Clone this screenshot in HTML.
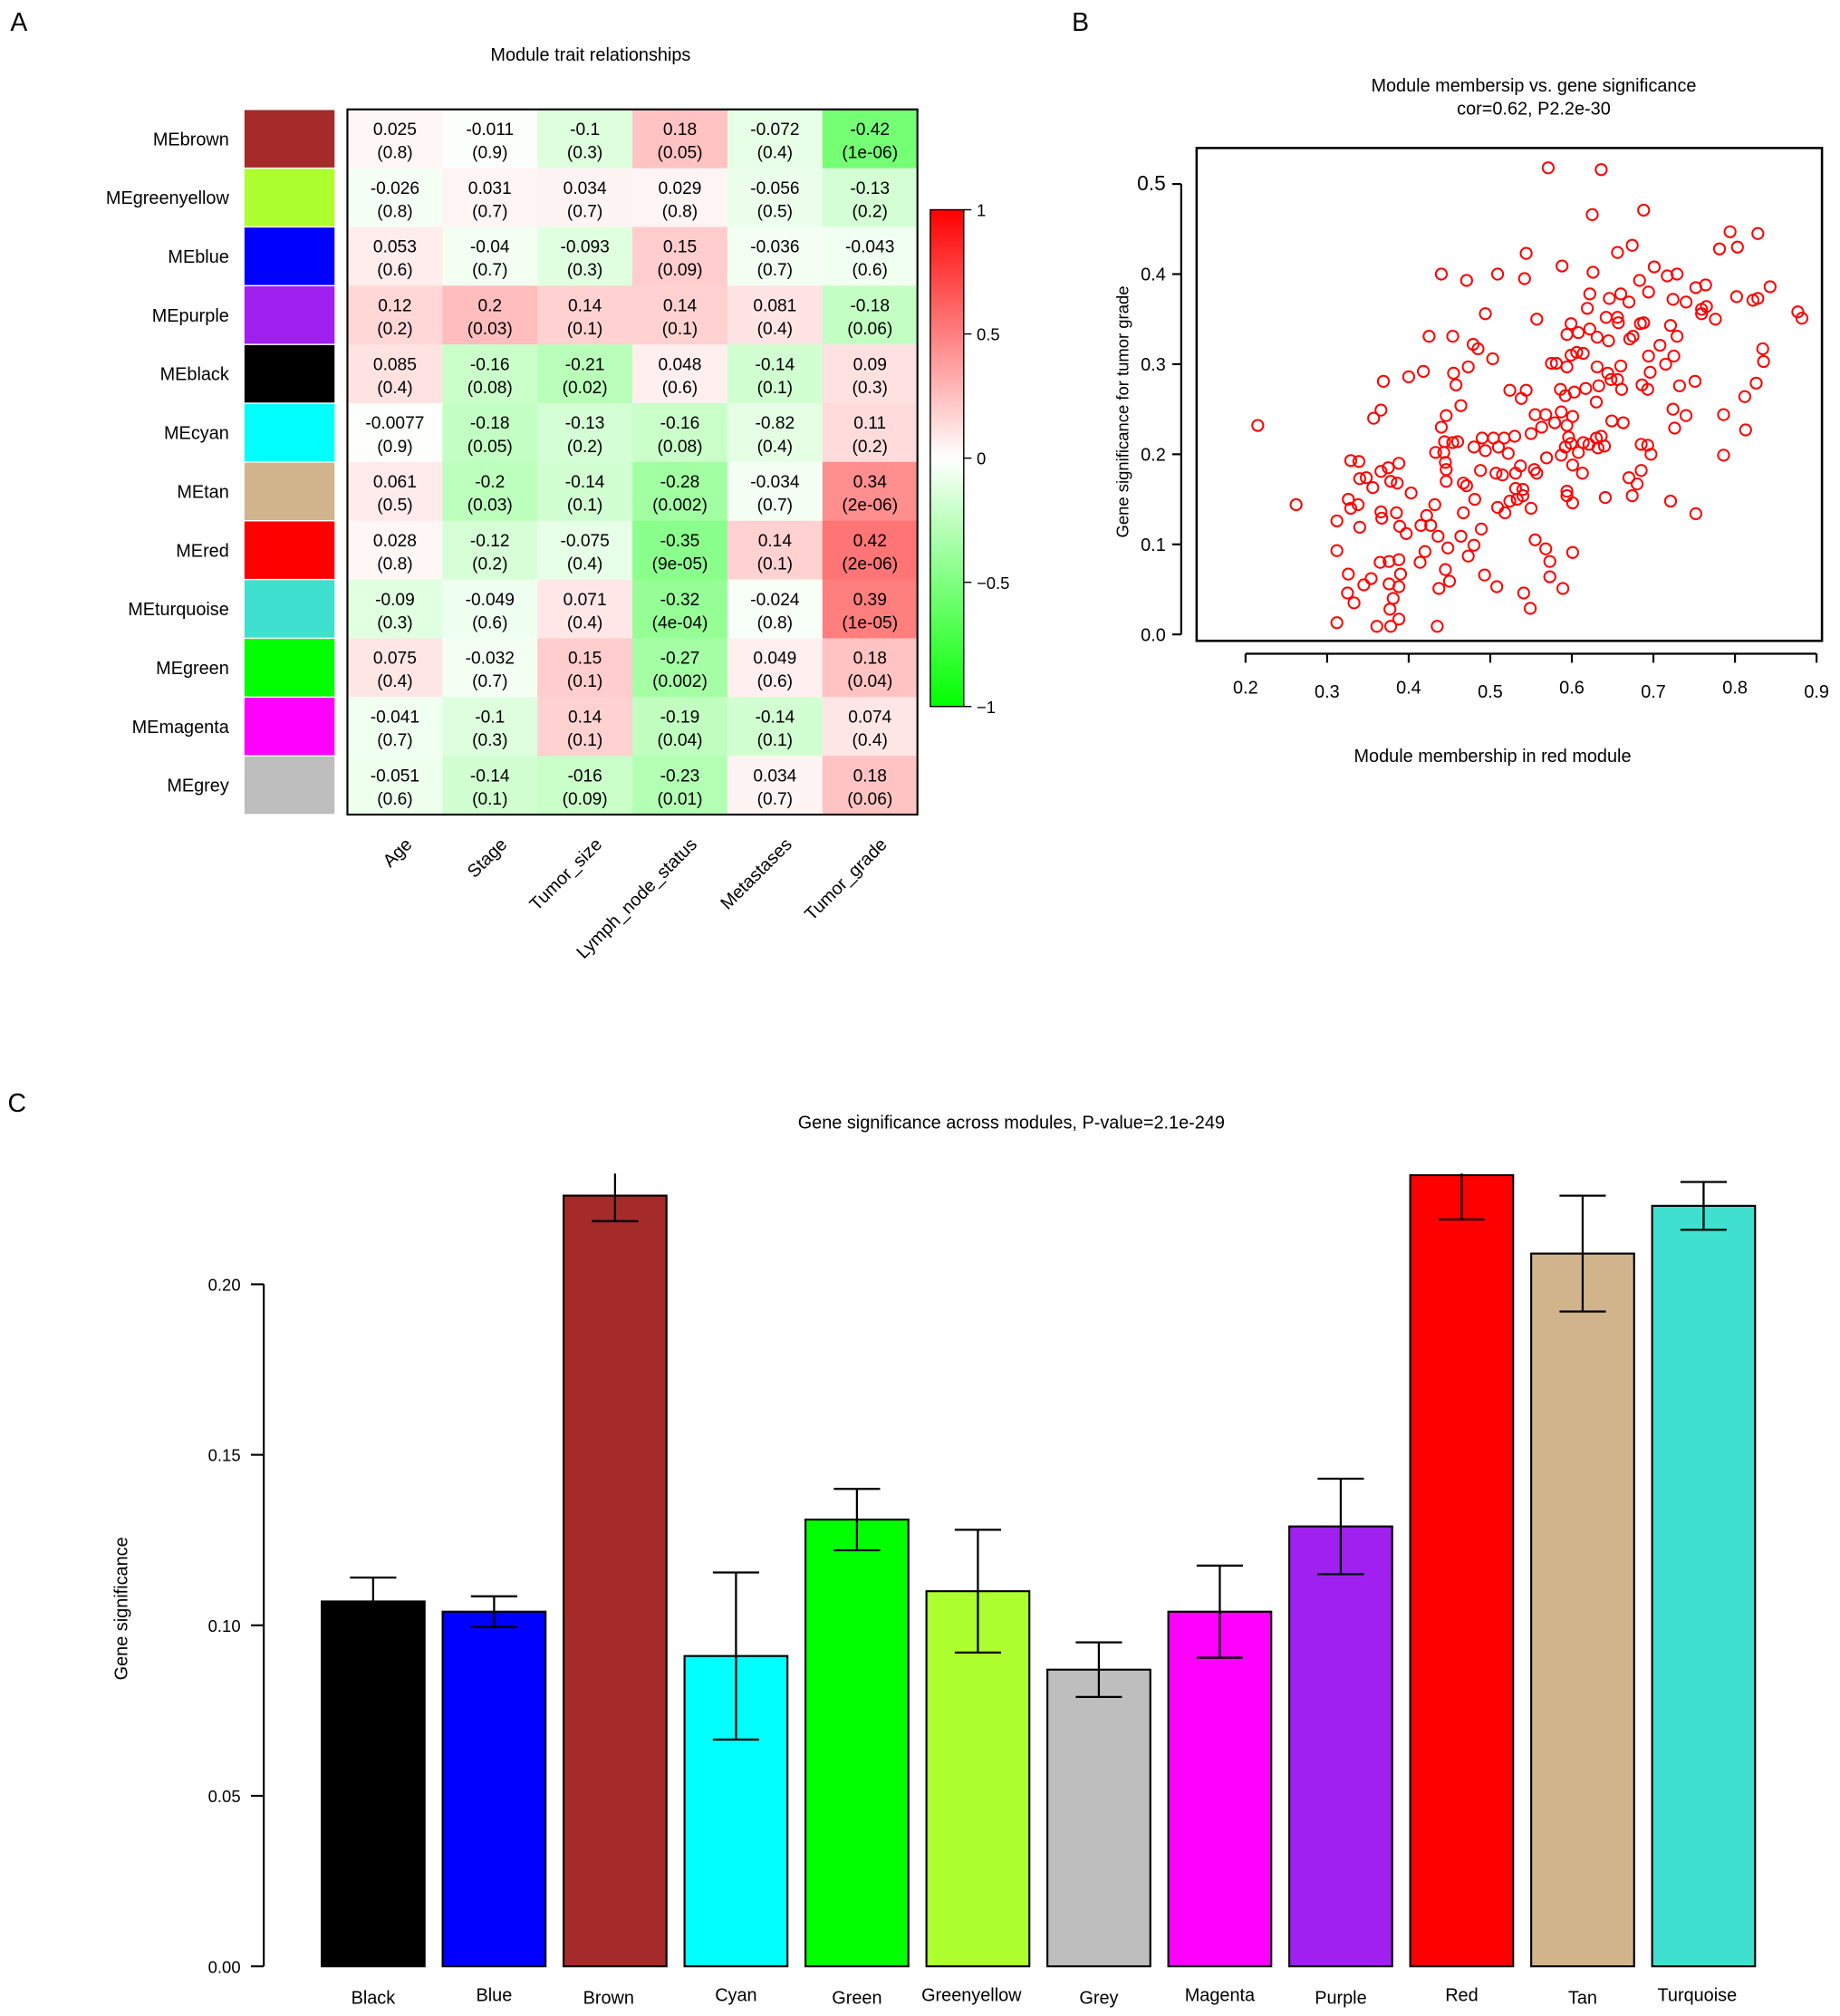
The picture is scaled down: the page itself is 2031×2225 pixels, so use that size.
<!DOCTYPE html>
<html><head><meta charset="utf-8"><style>
html,body{margin:0;padding:0;background:#fff}
svg{display:block;font-family:"Liberation Sans",Arial,sans-serif}
</style></head><body>
<svg id="fig" width="2031" height="2225" viewBox="0 0 1430 1566.6" xmlns="http://www.w3.org/2000/svg">
<text x="8" y="24" font-size="20">A</text>
<text x="833" y="24" font-size="20">B</text>
<text x="6" y="864" font-size="20">C</text>
<g id="heat"></g>
<g id="scatter"></g>
<g id="bars"></g>
</svg>
<script>
// ---------- Heatmap data ----------
const modules = ["brown","greenyellow","blue","purple","black","cyan","tan","red","turquoise","green","magenta","grey"];
const moduleColors = ["#a52a2a","#adff2f","#0000ff","#a020f0","#000000","#00ffff","#d2b48c","#ff0000","#40e0d0","#00ff00","#ff00ff","#bebebe"];
const traits = ["Age","Stage","Tumor_size","Lymph_node_status","Metastases","Tumor_grade"];
const corText = [
["0.025","-0.011","-0.1","0.18","-0.072","-0.42"],
["-0.026","0.031","0.034","0.029","-0.056","-0.13"],
["0.053","-0.04","-0.093","0.15","-0.036","-0.043"],
["0.12","0.2","0.14","0.14","0.081","-0.18"],
["0.085","-0.16","-0.21","0.048","-0.14","0.09"],
["-0.0077","-0.18","-0.13","-0.16","-0.82","0.11"],
["0.061","-0.2","-0.14","-0.28","-0.034","0.34"],
["0.028","-0.12","-0.075","-0.35","0.14","0.42"],
["-0.09","-0.049","0.071","-0.32","-0.024","0.39"],
["0.075","-0.032","0.15","-0.27","0.049","0.18"],
["-0.041","-0.1","0.14","-0.19","-0.14","0.074"],
["-0.051","-0.14","-016","-0.23","0.034","0.18"]];
const corValues = [
[0.025,-0.011,-0.1,0.18,-0.072,-0.42],
[-0.026,0.031,0.034,0.029,-0.056,-0.13],
[0.053,-0.04,-0.093,0.15,-0.036,-0.043],
[0.12,0.2,0.14,0.14,0.081,-0.18],
[0.085,-0.16,-0.21,0.048,-0.14,0.09],
[-0.0077,-0.18,-0.13,-0.16,-0.082,0.11],
[0.061,-0.2,-0.14,-0.28,-0.034,0.34],
[0.028,-0.12,-0.075,-0.35,0.14,0.42],
[-0.09,-0.049,0.071,-0.32,-0.024,0.39],
[0.075,-0.032,0.15,-0.27,0.049,0.18],
[-0.041,-0.1,0.14,-0.19,-0.14,0.074],
[-0.051,-0.14,-0.16,-0.23,0.034,0.18]];
const pText = [
["0.8","0.9","0.3","0.05","0.4","1e-06"],
["0.8","0.7","0.7","0.8","0.5","0.2"],
["0.6","0.7","0.3","0.09","0.7","0.6"],
["0.2","0.03","0.1","0.1","0.4","0.06"],
["0.4","0.08","0.02","0.6","0.1","0.3"],
["0.9","0.05","0.2","0.08","0.4","0.2"],
["0.5","0.03","0.1","0.002","0.7","2e-06"],
["0.8","0.2","0.4","9e-05","0.1","2e-06"],
["0.3","0.6","0.4","4e-04","0.8","1e-05"],
["0.4","0.7","0.1","0.002","0.6","0.04"],
["0.7","0.3","0.1","0.04","0.1","0.4"],
["0.6","0.1","0.09","0.01","0.7","0.06"]];
const colorbarTicks = [1,0.5,0,-0.5,-1];

// ---------- Scatter data ----------
const mmX = [0.215,0.262,0.571,0.636,0.625,0.688,0.794,0.828,0.781,0.803,0.674,0.656,0.544,0.588,0.626,0.701,0.717,0.729,0.440,0.471,0.509,0.542,0.683,0.694,0.622,0.646,0.660,0.670,0.724,0.740,0.752,0.764,0.759,0.765,0.759,0.776,0.802,0.822,0.828,0.843,0.877,0.882,0.619,0.642,0.656,0.657,0.557,0.494,0.599,0.608,0.622,0.631,0.645,0.671,0.684,0.688,0.675,0.721,0.729,0.708,0.725,0.715,0.694,0.696,0.732,0.751,0.594,0.599,0.575,0.581,0.594,0.606,0.614,0.631,0.644,0.648,0.660,0.656,0.661,0.633,0.617,0.603,0.586,0.592,0.686,0.693,0.630,0.724,0.740,0.726,0.649,0.663,0.786,0.812,0.826,0.835,0.834,0.813,0.786,0.752,0.721,0.685,0.693,0.697,0.685,0.670,0.680,0.674,0.641,0.621,0.630,0.636,0.640,0.632,0.614,0.608,0.613,0.601,0.592,0.596,0.599,0.587,0.587,0.601,0.594,0.579,0.568,0.555,0.563,0.550,0.569,0.544,0.538,0.524,0.503,0.473,0.454,0.425,0.479,0.485,0.455,0.458,0.464,0.418,0.400,0.369,0.366,0.357,0.446,0.440,0.444,0.454,0.460,0.433,0.443,0.445,0.446,0.446,0.480,0.490,0.494,0.504,0.510,0.517,0.530,0.522,0.488,0.507,0.515,0.531,0.537,0.554,0.557,0.531,0.540,0.540,0.533,0.524,0.518,0.509,0.550,0.594,0.601,0.594,0.467,0.471,0.481,0.467,0.489,0.464,0.480,0.473,0.448,0.436,0.427,0.415,0.432,0.422,0.420,0.414,0.445,0.450,0.437,0.435,0.493,0.508,0.555,0.568,0.573,0.573,0.589,0.601,0.541,0.549,0.403,0.397,0.389,0.385,0.388,0.375,0.366,0.378,0.386,0.366,0.367,0.356,0.348,0.340,0.329,0.339,0.326,0.329,0.338,0.340,0.312,0.312,0.326,0.325,0.333,0.345,0.354,0.312,0.361,0.378,0.388,0.377,0.381,0.376,0.388,0.390,0.388,0.376,0.365];
const gsY = [0.232,0.144,0.518,0.516,0.466,0.471,0.447,0.445,0.428,0.430,0.432,0.424,0.423,0.409,0.402,0.408,0.398,0.400,0.400,0.393,0.400,0.395,0.393,0.380,0.378,0.373,0.378,0.369,0.372,0.369,0.385,0.388,0.361,0.364,0.356,0.350,0.375,0.371,0.373,0.386,0.358,0.351,0.362,0.352,0.352,0.346,0.350,0.356,0.345,0.335,0.339,0.330,0.326,0.328,0.345,0.346,0.331,0.343,0.331,0.321,0.309,0.300,0.309,0.291,0.276,0.281,0.333,0.310,0.301,0.301,0.297,0.313,0.312,0.297,0.290,0.283,0.298,0.283,0.272,0.276,0.273,0.269,0.272,0.265,0.277,0.272,0.258,0.250,0.243,0.229,0.237,0.235,0.244,0.264,0.279,0.303,0.317,0.227,0.199,0.134,0.148,0.211,0.210,0.200,0.182,0.174,0.167,0.154,0.152,0.211,0.218,0.220,0.209,0.207,0.213,0.202,0.179,0.188,0.208,0.219,0.212,0.199,0.247,0.242,0.232,0.235,0.244,0.244,0.230,0.223,0.196,0.271,0.262,0.271,0.306,0.297,0.331,0.331,0.322,0.317,0.290,0.277,0.254,0.292,0.286,0.281,0.249,0.240,0.243,0.230,0.214,0.213,0.214,0.202,0.202,0.191,0.183,0.170,0.208,0.218,0.204,0.218,0.208,0.218,0.220,0.201,0.182,0.179,0.177,0.179,0.187,0.183,0.179,0.162,0.161,0.154,0.150,0.148,0.135,0.141,0.140,0.154,0.146,0.159,0.168,0.165,0.150,0.135,0.117,0.109,0.099,0.087,0.096,0.109,0.121,0.121,0.144,0.132,0.092,0.080,0.072,0.059,0.051,0.009,0.066,0.053,0.105,0.095,0.081,0.064,0.051,0.091,0.046,0.029,0.157,0.112,0.120,0.135,0.190,0.185,0.181,0.170,0.168,0.136,0.129,0.163,0.174,0.173,0.193,0.192,0.150,0.140,0.144,0.119,0.126,0.093,0.067,0.046,0.035,0.055,0.062,0.013,0.009,0.009,0.017,0.028,0.040,0.056,0.053,0.067,0.083,0.081,0.080];
const scatterXTicks = [0.2,0.3,0.4,0.5,0.6,0.7,0.8,0.9];
const scatterYTicks = [0.0,0.1,0.2,0.3,0.4,0.5];

// ---------- Bar data ----------
const barModules = ["Black","Blue","Brown","Cyan","Green","Greenyellow","Grey","Magenta","Purple","Red","Tan","Turquoise"];
const barColors = ["#000000","#0000ff","#a52a2a","#00ffff","#00ff00","#adff2f","#bebebe","#ff00ff","#a020f0","#ff0000","#d2b48c","#40e0d0"];
const barValues = [0.107,0.104,0.226,0.091,0.131,0.110,0.087,0.104,0.129,0.232,0.209,0.223];
const barErrors = [0.007,0.0045,0.0075,0.0245,0.009,0.018,0.008,0.0135,0.014,0.013,0.017,0.007];
const barYTicks = [0.00,0.05,0.10,0.15,0.20];

const NS="http://www.w3.org/2000/svg";
function mk(parent,tag,attrs,text){const e=document.createElementNS(NS,tag);for(const k in attrs)e.setAttribute(k,attrs[k]);if(text!==undefined)e.textContent=text;parent.appendChild(e);return e;}

// ===== Heatmap =====
(function(){
const g=document.getElementById('heat');
const x0=270,x1=713,y0=85,y1=633;
const cw=(x1-x0)/traits.length,rh=(y1-y0)/modules.length;
const t=mk(g,'text',{x:459,y:47,'font-size':14,'text-anchor':'middle'},'Module trait relationships');


function heatColor(v){const a=Math.min(1,Math.abs(v)*1.3);const c=Math.round(255*(1-a));return v>=0?`rgb(255,${c},${c})`:`rgb(${c},255,${c})`;}
modules.forEach((m,i)=>{
  const yy=y0+i*rh;
  const sw=mk(g,'rect',{x:190,y:yy+0.5,width:70,height:rh-1,fill:moduleColors[i]});
  
  
  const lb=mk(g,'text',{x:178,y:yy+rh/2+5,'font-size':14,'text-anchor':'end'},'ME'+m);
  
  
  traits.forEach((tr,j)=>{
    const xx=x0+j*cw;
    const c=mk(g,'rect',{x:xx,y:yy,width:cw+0.3,height:rh+0.3,fill:heatColor(corValues[i][j])});
    
    
    const tx=mk(g,'text',{x:xx+cw/2,y:yy+rh/2-3,'font-size':13.5,'text-anchor':'middle'},corText[i][j]);
    
    
    const tp=mk(g,'text',{x:xx+cw/2,y:yy+rh/2+15,'font-size':13.5,'text-anchor':'middle'},'('+pText[i][j]+')');
    
    
  });
});
const fr=mk(g,'rect',{x:x0,y:y0,width:x1-x0,height:y1-y0,fill:'none',stroke:'#000','stroke-width':1.5});


traits.forEach((tr,j)=>{
  const cx=x0+j*cw+cw/2+14;
  const l=mk(g,'text',{x:cx,y:657,'font-size':14,'text-anchor':'end',transform:`rotate(-45 ${cx} 657)`},tr);
  
  
});
const cbx=723,cby0=163,cby1=549;
const defs=mk(g,'defs',{});
const lg=mk(defs,'linearGradient',{id:'cbg',x1:0,y1:0,x2:0,y2:1});
mk(lg,'stop',{offset:'0','stop-color':'#ff0000'});
mk(lg,'stop',{offset:'0.5','stop-color':'#ffffff'});
mk(lg,'stop',{offset:'1','stop-color':'#00ff00'});
const cb=mk(g,'rect',{x:cbx,y:cby0,width:26,height:cby1-cby0,fill:'url(#cbg)',stroke:'#000','stroke-width':1});


colorbarTicks.forEach(v=>{
  const y=cby0+(1-v)/2*(cby1-cby0);
  mk(g,'line',{x1:cbx+26,x2:cbx+32,y1:y,y2:y,stroke:'#000'});
  const tl=mk(g,'text',{x:cbx+36,y:y+5,'font-size':13},(v===0.5?'0.5':v===-0.5?'−0.5':v===-1?'−1':String(v)));
  
  
});
})();

// ===== Scatter =====
(function(){
const g=document.getElementById('scatter');
const sx=v=>968+(v-0.2)*634, sy=v=>493-v*700;
const t1=mk(g,'text',{x:1192,y:71,'font-size':14,'text-anchor':'middle'},'Module membersip vs. gene significance');


const t2=mk(g,'text',{x:1192,y:89,'font-size':14,'text-anchor':'middle'},'cor=0.62, P2.2e-30');


const box=mk(g,'rect',{x:930,y:115,width:486,height:383,fill:'none',stroke:'#000','stroke-width':1.8});


mmX.forEach((x,i)=>{
  const c=mk(g,'circle',{cx:sx(x),cy:sy(gsY[i]),r:4.3,fill:'none',stroke:'#ff0000','stroke-width':1.4});
  
  
});
mk(g,'line',{x1:sx(0.2),x2:sx(0.9),y1:508,y2:508,stroke:'#000','stroke-width':1.5});
scatterXTicks.forEach((v,i)=>{
  mk(g,'line',{x1:sx(v),x2:sx(v),y1:508,y2:515,stroke:'#000','stroke-width':1.5});
  const l=mk(g,'text',{x:sx(v),y:i%2?542:539,'font-size':14,'text-anchor':'middle'},v.toFixed(1));
  
  
});
mk(g,'line',{x1:918,x2:918,y1:sy(0),y2:sy(0.5),stroke:'#000','stroke-width':1.5});
scatterYTicks.forEach(v=>{
  mk(g,'line',{x1:911,x2:918,y1:sy(v),y2:sy(v),stroke:'#000','stroke-width':1.5});
  const l=mk(g,'text',{x:906,y:sy(v)+5,'font-size':v===0.5?16:14,'text-anchor':'end'},v.toFixed(1));
  
  
});
const xl=mk(g,'text',{x:1160,y:592,'font-size':14,'text-anchor':'middle'},'Module membership in red module');


const yl=mk(g,'text',{x:877,y:320,'font-size':13,'text-anchor':'middle',transform:'rotate(-90 877 320)'},'Gene significance for tumor grade');


})();

// ===== Bars =====
(function(){
const g=document.getElementById('bars');
const sy=v=>1528-v*2650;
const t=mk(g,'text',{x:786,y:877,'font-size':14,'text-anchor':'middle'},'Gene significance across modules, P-value=2.1e-249');


mk(g,'line',{x1:205,x2:205,y1:sy(0),y2:sy(0.2),stroke:'#000','stroke-width':1.5});
barYTicks.forEach(v=>{
  mk(g,'line',{x1:195,x2:205,y1:sy(v),y2:sy(v),stroke:'#000','stroke-width':1.5});
  const l=mk(g,'text',{x:187,y:sy(v)+5,'font-size':13,'text-anchor':'end'},v.toFixed(2));
  
  
});
const yl=mk(g,'text',{x:99,y:1250,'font-size':14,'text-anchor':'middle',transform:'rotate(-90 99 1250)'},'Gene significance');


const defs=mk(g,'defs',{});
const cp=mk(defs,'clipPath',{id:'barclip'});
mk(cp,'rect',{x:200,y:912,width:1200,height:640});
const inner=mk(g,'g',{'clip-path':'url(#barclip)'});
barModules.forEach((m,i)=>{
  const x=250+i*94, w=80, cx=x+w/2;
  const v=barValues[i], e=barErrors[i];
  const r=mk(inner,'rect',{x:x,y:sy(v),width:w,height:sy(0)-sy(v),fill:barColors[i],stroke:'#000','stroke-width':1.5});
  
  
  const eb=mk(inner,'path',{d:`M${cx-18},${sy(v+e)}H${cx+18}M${cx},${sy(v+e)}V${sy(v-e)}M${cx-18},${sy(v-e)}H${cx+18}`,stroke:'#000','stroke-width':1.6,fill:'none'});
  
  
  const l=mk(g,'text',{x:cx-(i===2||i===5||i===11?5:0),y:i%2?1555:1557,'font-size':14,'text-anchor':'middle'},m);
  
  
});
})();
</script>
</body></html>
